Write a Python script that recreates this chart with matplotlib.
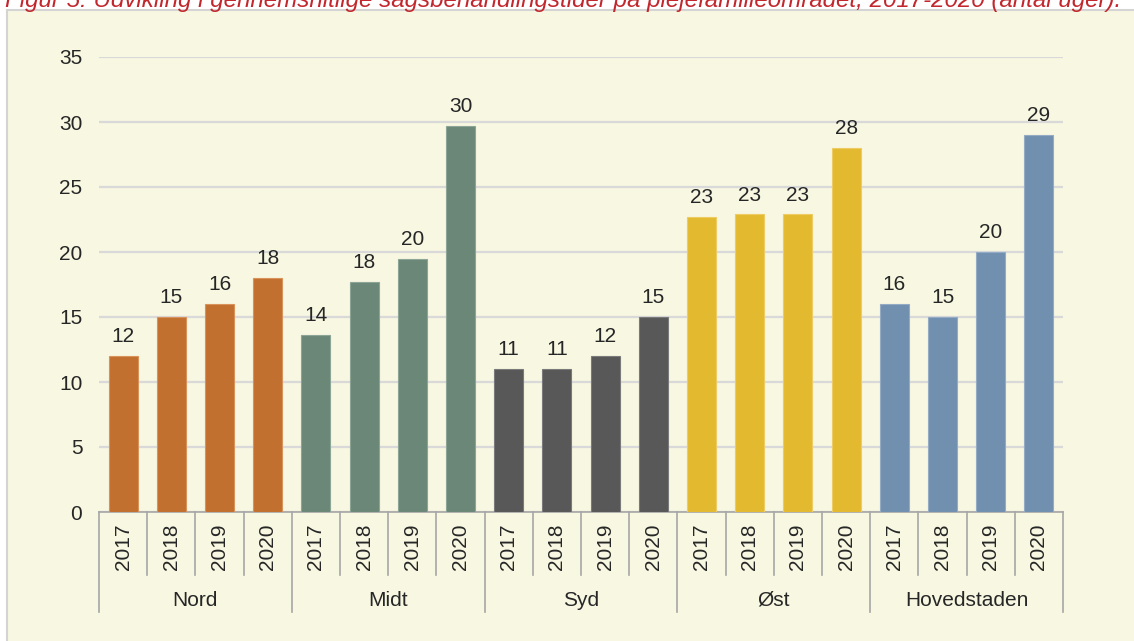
import matplotlib
matplotlib.use("Agg")
import matplotlib.pyplot as plt
import matplotlib.transforms as mtransforms
from matplotlib.patches import Rectangle

plt.rcParams['font.family'] = ['Liberation Sans', 'DejaVu Sans']

# data
regions = ['Nord', 'Midt', 'Syd', 'Øst', 'Hovedstaden']
years = ['2017', '2018', '2019', '2020']
nord = [12.0, 15.0, 16.0, 18.0]
midt = [13.6, 17.7, 19.5, 29.7]
syd = [11.0, 11.0, 12.0, 15.0]
oest = [22.7, 22.9, 22.9, 28.0]
hovedstaden = [16.0, 15.0, 20.0, 29.0]
series = [nord, midt, syd, oest, hovedstaden]
colors = ['#C2702F', '#6B8777', '#585858', '#E3B92F', '#7190AF']
edges = ['#D9935A', '#8CA597', '#7A7A7A', '#EDCC63', '#93ABC4']
title = ("Figur 5: Udvikling i gennemsnitlige sagsbehandlingstider på "
         "plejefamilieområdet, 2017-2020 (antal uger).")

W, H = 1134, 641
fig = plt.figure(figsize=(W / 100, H / 100), dpi=100)
fig.patch.set_facecolor('white')

# beige panel
panel = Rectangle((7 / W, -0.01), 1.02, 1 - 10 / H + 0.01, transform=fig.transFigure,
                  facecolor='#F8F7E1', edgecolor='#D4D4D4', linewidth=1.5, zorder=-1)
fig.patches.append(panel)

# title, mostly cut at the top of the image (as in the source)
fig.text(5 / W, 1 - 7 / H, title, color='#C1272D', style='italic', fontsize=17.4,
         ha='left', va='baseline')

ax_left, ax_right, ax_top, ax_bot = 99, 1063, 57, 512
ax = fig.add_axes([ax_left / W, 1 - ax_bot / H, (ax_right - ax_left) / W, (ax_bot - ax_top) / H])
ax.set_facecolor('none')

txt = '#262626'
fs = 15
for g, vals in enumerate(series):
    xs = [g * 4 + i for i in range(4)]
    ax.bar(xs, vals, width=0.6, color=colors[g], edgecolor=edges[g], linewidth=0.8, zorder=3)
    for x, v in zip(xs, vals):
        ax.annotate(f'{round(v):d}', (x, v), xytext=(0, 7), textcoords='offset points',
                    ha='center', va='bottom', fontsize=fs, color=txt)

ax.set_xlim(-0.5, 19.5)
ax.set_ylim(0, 35)
ax.set_yticks(range(0, 36, 5))
ax.tick_params(axis='y', length=0, pad=12, labelsize=fs, labelcolor=txt)
ax.set_xticks([])
ax.grid(axis='y', color='#D9D9D9', linewidth=1.6, zorder=0)
ax.set_axisbelow(True)
for s in ['left', 'right', 'top']:
    ax.spines[s].set_visible(False)
ax.spines['bottom'].set_color('#A6A6A6')
ax.spines['bottom'].set_linewidth(1.2)

# category axis: years and regions
axh = ax_bot - ax_top
trans = mtransforms.blended_transform_factory(ax.transData, ax.transAxes)
for i in range(21):
    y_end = -(612 - ax_bot) / axh if i % 4 == 0 else -(575 - ax_bot) / axh
    ax.plot([i - 0.5, i - 0.5], [0, y_end], color='#A6A6A6', linewidth=1.2,
            transform=trans, clip_on=False)
for g, name in enumerate(regions):
    for i, yr in enumerate(years):
        ax.text(g * 4 + i, -(547 - ax_bot) / axh, yr, rotation=90, ha='center', va='center',
                fontsize=fs, color=txt, transform=trans)
    ax.text(g * 4 + 1.5, -(600 - ax_bot) / axh, name, ha='center', va='center',
            fontsize=fs, color=txt, transform=trans)

fig.savefig('out.png', dpi=100, facecolor=fig.get_facecolor())
